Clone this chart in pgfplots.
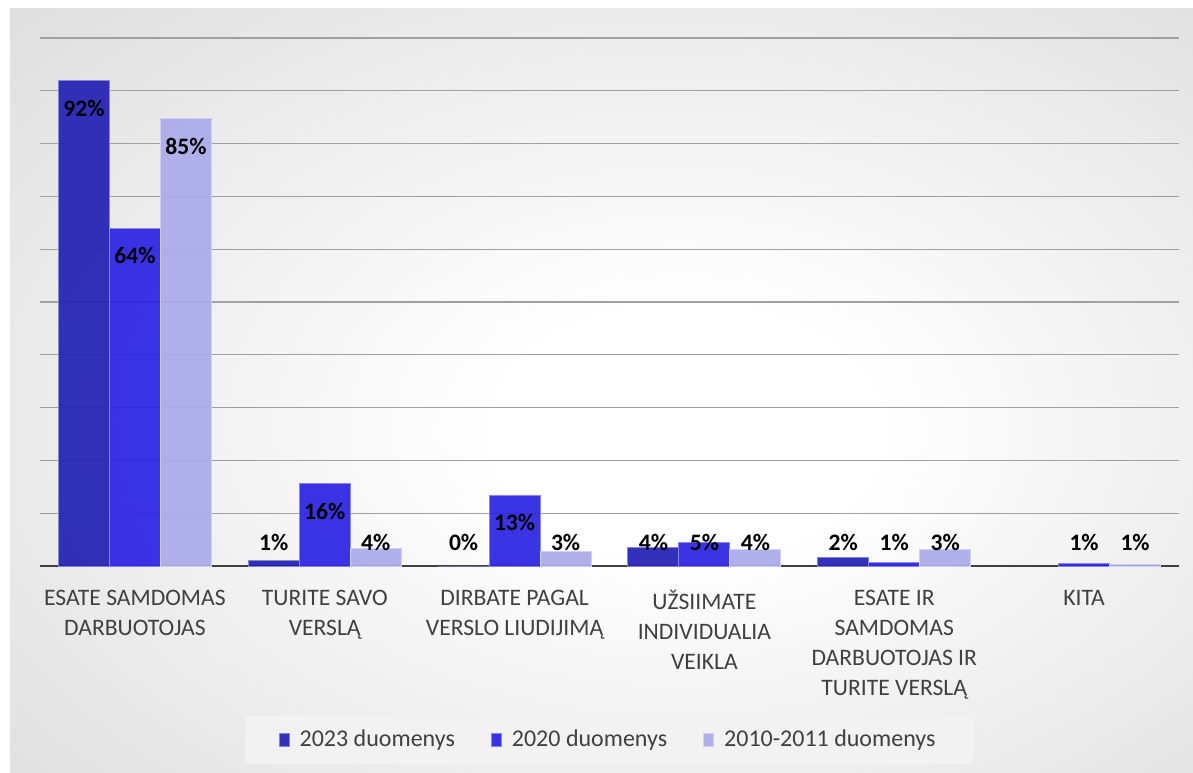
\documentclass[border=0pt]{standalone}
\usepackage{fontspec}
\setmainfont{Carlito}
\usepackage{pgfplots}
\pgfplotsset{compat=1.18}
\definecolor{cA}{HTML}{2220B4}
\definecolor{cB}{HTML}{2B23E2}
\definecolor{cC}{HTML}{AAAAE9}
\definecolor{gridc}{HTML}{A0A0A0}
\definecolor{axisc}{HTML}{404040}
\definecolor{txt}{HTML}{404040}
\definecolor{legbg}{HTML}{F2F2F2}
\definecolor{bgmid}{HTML}{D2D2D2}
\definecolor{bgedge}{HTML}{C2C2C2}
\pgfdeclareradialshading{bgshade}{\pgfpoint{4bp}{-3bp}}{color(0bp)=(white); color(8bp)=(white); color(50bp)=(bgmid); color(75bp)=(bgedge)}
\begin{document}
\begin{tikzpicture}
\fill[white] (0,0) rectangle (596.5pt,386pt);
\shade[shading=bgshade] (5pt,0) rectangle (596.5pt,381.5pt);
\begin{axis}[
  at={(20pt,103pt)}, anchor=south west,
  scale only axis, width=569.5pt, height=264pt,
  xmin=-0.5, xmax=5.5, ymin=0, ymax=100,
  xtick={0,1,2,3,4,5},
  xticklabels={{ESATE SAMDOMAS\\DARBUOTOJAS},{TURITE SAVO\\VERSLĄ},{DIRBATE PAGAL\\VERSLO LIUDIJIMĄ},{UŽSIIMATE\\INDIVIDUALIA\\VEIKLA},{ESATE IR\\SAMDOMAS\\DARBUOTOJAS IR\\TURITE VERSLĄ},{KITA}},
  xticklabel style={align=center, font=\fontsize{11.8}{15}\selectfont, text=txt, yshift=-8.5pt},
  ytick={0,10,...,100}, yticklabels={},
  ymajorgrids, grid style={gridc, line width=0.6pt},
  major tick length=0pt,
  axis x line*=bottom, axis y line*=left,
  x axis line style={axisc, line width=1.3pt, -},
  y axis line style={draw=none},
  clip=false,
  legend columns=3,
  legend style={at={(0.4996,-0.3295)}, anchor=center, draw=none, fill=legbg,
    font=\fontsize{12}{14}\selectfont, text=txt,
    inner xsep=17pt, inner ysep=5pt,
    /tikz/every odd column/.append style={column sep=3pt},
    /tikz/every even column/.append style={column sep=16pt}},
  legend image code/.code={\draw[#1] (0pt,-3.25pt) rectangle (5pt,3.25pt);},
  lab/.style={draw=none, mark=none, forget plot, nodes near coords, point meta=explicit symbolic,
    nodes near coords style={anchor=center, font=\fontsize{11.8}{14}\selectfont\bfseries, text=black}},
]
\addplot[ybar, bar width=25.5pt, bar shift=-25.5pt, fill=cA, fill opacity=0.92, draw=cA!55!white, line width=0.5pt]
  coordinates {(0,92) (1,1.1) (2,0) (3,3.5) (4,1.7)};
\addlegendentry{2023 duomenys}
\addplot[ybar, bar width=25.5pt, bar shift=0pt, fill=cB, fill opacity=0.92, draw=cB!55!white, line width=0.5pt]
  coordinates {(0,64) (1,15.6) (2,13.3) (3,4.4) (4,0.6) (5,0.5)};
\addlegendentry{2020 duomenys}
\addplot[ybar, bar width=25.5pt, bar shift=25.5pt, fill=cC, fill opacity=0.92, draw=cC!55!white, line width=0.5pt]
  coordinates {(0,84.7) (1,3.3) (2,2.7) (3,3.1) (4,3.1) (5,0.3)};
\addlegendentry{2010-2011 duomenys}
\addplot[lab, nodes near coords style={xshift=-25.5pt}]
  coordinates {(0,86.6) [92\%] (1,4.5) [1\%] (2,4.5) [0\%] (3,4.5) [4\%] (4,4.5) [2\%]};
\addplot[lab]
  coordinates {(0,58.9) [64\%] (1,10.3) [16\%] (2,8.2) [13\%] (3,4.5) [5\%] (4,4.5) [1\%] (5,4.5) [1\%]};
\addplot[lab, nodes near coords style={xshift=25.5pt}]
  coordinates {(0,79.5) [85\%] (1,4.5) [4\%] (2,4.5) [3\%] (3,4.5) [4\%] (4,4.5) [3\%] (5,4.5) [1\%]};
\end{axis}
\end{tikzpicture}
\end{document}
